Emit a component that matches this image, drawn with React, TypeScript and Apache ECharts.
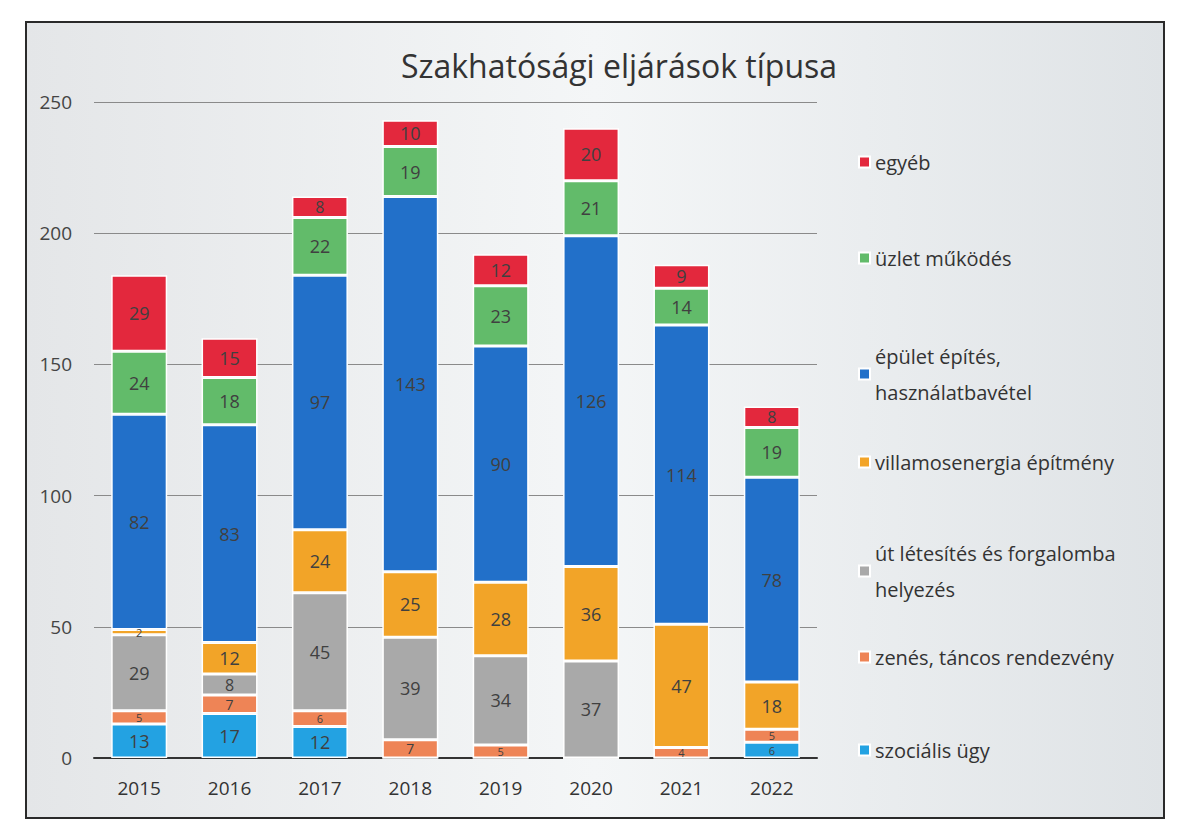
import React, { useEffect, useRef } from "react";
import * as echarts from "echarts";

const years = ["2015", "2016", "2017", "2018", "2019", "2020", "2021", "2022"];
const szocialis = [13, 17, 12, 0, 0, 0, 0, 6];
const zenes = [5, 7, 6, 7, 5, 0, 4, 5];
const ut = [29, 8, 45, 39, 34, 37, 0, 0];
const villamos = [2, 12, 24, 25, 28, 36, 47, 18];
const epulet = [82, 83, 97, 143, 90, 126, 114, 78];
const uzlet = [24, 18, 22, 19, 23, 21, 14, 19];
const egyeb = [29, 15, 8, 10, 12, 20, 9, 8];
const yTicks = [0, 50, 100, 150, 200, 250];

const seriesDefs = [
  { name: "szociális ügy", data: szocialis, color: "#23a2e2" },
  { name: "zenés, táncos rendezvény", data: zenes, color: "#ee8456" },
  { name: "út létesítés és forgalomba helyezés", data: ut, color: "#a9a9a9" },
  { name: "villamosenergia építmény", data: villamos, color: "#f2a428" },
  { name: "épület építés, használatbavétel", data: epulet, color: "#2270c9" },
  { name: "üzlet működés", data: uzlet, color: "#62bb6a" },
  { name: "egyéb", data: egyeb, color: "#e3283d" },
];

const legendLabels: Record<string, string> = {
  "szociális ügy": "szociális ügy",
  "zenés, táncos rendezvény": "zenés, táncos rendezvény",
  "út létesítés és forgalomba helyezés": "út létesítés és forgalomba\nhelyezés",
  "villamosenergia építmény": "villamosenergia építmény",
  "épület építés, használatbavétel": "épület építés,\nhasználatbavétel",
  "üzlet működés": "üzlet működés",
  "egyéb": "egyéb",
};
const legendTops = [727, 634, 530, 439, 333, 235, 139];

function labelSize(v: number) {
  if (v <= 6) return 11;
  if (v === 7) return 14;
  if (v === 8) return 16;
  return 18;
}

export default function App() {
  const ref = useRef<HTMLDivElement>(null);
  useEffect(() => {
    document.body.style.margin = "0";
    const chart = echarts.init(ref.current!, undefined, { renderer: "svg" });
    const font = "'Open Sans', sans-serif";
    chart.setOption({
      animation: false,
      textStyle: { fontFamily: font },
      graphic: [
        {
          type: "rect",
          z: -10,
          shape: { x: 26, y: 22, width: 1138, height: 796 },
          style: {
            fill: new echarts.graphic.LinearGradient(0, 0, 1, 0, [
              { offset: 0, color: "#e4e6e8" },
              { offset: 0.5, color: "#f4f6f7" },
              { offset: 1, color: "#dfe3e6" },
            ]),
            stroke: "#2a2a2a",
            lineWidth: 2,
          },
        },
      ],
      title: {
        text: "Szakhatósági eljárások típusa",
        left: 614,
        top: 44,
        textAlign: "center",
        textStyle: { fontFamily: font, fontSize: 32, fontWeight: "normal", color: "#333" },
      },
      grid: { left: 94, right: 370, top: 102, bottom: 80 },
      xAxis: {
        type: "category",
        data: years,
        axisLine: { lineStyle: { color: "#333", width: 2 } },
        axisTick: { show: false },
        axisLabel: { fontSize: 19, color: "#333", margin: 20, fontFamily: font },
      },
      yAxis: {
        type: "value",
        min: 0,
        max: 250,
        interval: 50,
        axisLine: { show: false },
        axisTick: { show: false },
        axisLabel: {
          fontSize: 19,
          color: "#444",
          margin: 22,
          fontFamily: font,
          formatter: (v: number) => (yTicks.includes(v) ? String(v) : ""),
        },
        splitLine: { lineStyle: { color: "#8a8a8a", width: 1.2 } },
      },
      legend: seriesDefs.map((s, i) => ({
        data: [s.name],
        orient: "vertical",
        left: 853,
        top: legendTops[i],
        itemWidth: 11,
        itemHeight: 11,
        icon: "rect",
        formatter: (n: string) => legendLabels[n],
        textStyle: { fontSize: 20, color: "#333", fontFamily: font, lineHeight: 36 },
        selectedMode: false,
      })),
      series: seriesDefs.map((s) => ({
        name: s.name,
        type: "bar",
        stack: "total",
        data: s.data.map((v) => ({
          value: v,
          label: { fontSize: labelSize(v), lineHeight: labelSize(v) },
        })),
        barWidth: 56,
        itemStyle: { color: s.color, borderColor: "#ffffff", borderWidth: 1.5 },
        label: {
          show: true,
          position: "inside",
          fontSize: 18,
          color: "#404040",
          fontFamily: font,
          formatter: (p: any) => (p.value ? String(p.value) : ""),
        },
      })),
    });
    return () => chart.dispose();
  }, []);
  return <div ref={ref} style={{ width: 1187, height: 838 }} />;
}
